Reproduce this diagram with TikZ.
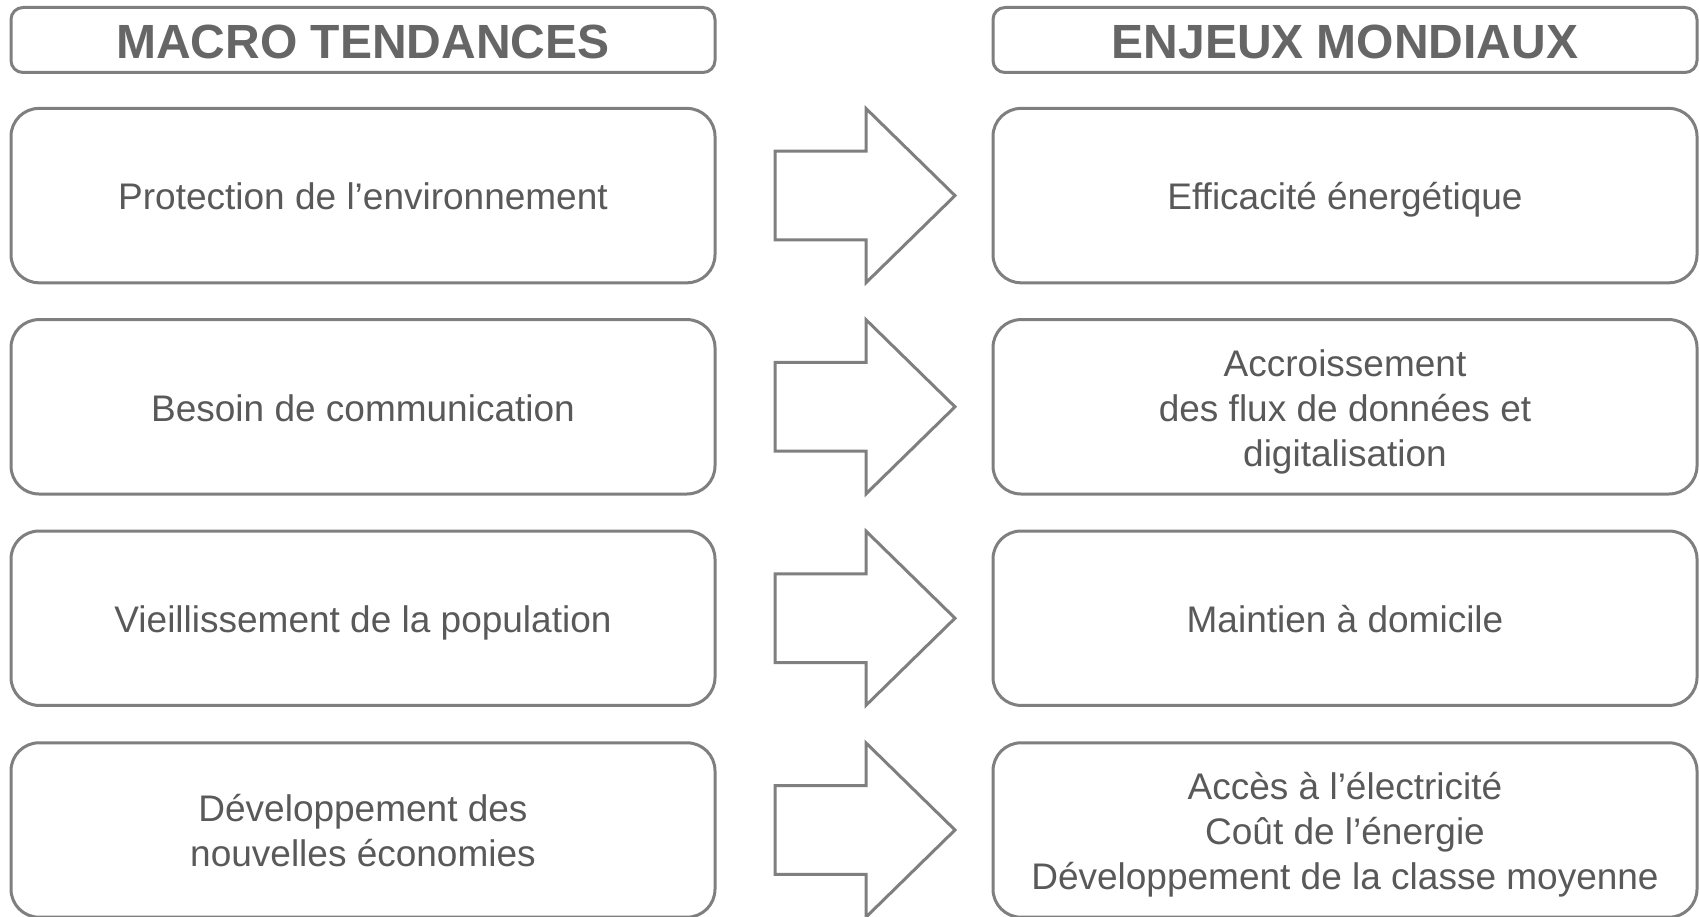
\documentclass[tikz,border=0pt]{standalone}
\usepackage{fontspec}
\setmainfont{Liberation Sans}
\usetikzlibrary{calc}
\definecolor{bordergray}{HTML}{7F7F7F}
\definecolor{textgray}{HTML}{595959}
\definecolor{headgray}{HTML}{666666}
\newcommand{\lnst}{\rule[-0.18\baselineskip]{0pt}{\baselineskip}}
\newcommand{\hdst}{\rule[-0.16\baselineskip]{0pt}{\baselineskip}}
\tikzset{
  rowbox/.style={draw=bordergray, line width=3pt, fill=white, rounded corners=28pt,
    minimum width=704pt, minimum height=174.4pt, inner sep=0pt, align=center,
    text=textgray, font=\fontsize{37}{45}\selectfont},
  headbox/.style={draw=bordergray, line width=3pt, fill=white, rounded corners=12pt,
    minimum width=704pt, minimum height=65pt, inner sep=0pt, align=center,
    text=headgray, font=\fontsize{48}{54}\selectfont\bfseries},
  bigarrow/.style={draw=bordergray, line width=3pt, fill=white, line join=miter}
}
\begin{document}
\begin{tikzpicture}[x=1pt,y=-1pt]
\useasboundingbox (0,0) rectangle (1699,917);
\node[headbox] (hl) at (363,40) {\hdst MACRO TENDANCES};
\node[headbox] (hr) at (1345,40) {\hdst ENJEUX MONDIAUX};

\node[rowbox] (l1) at (363,195.6) {\lnst Protection de l’environnement};
\node[rowbox] (l2) at (363,406.8) {\lnst Besoin de communication};
\node[rowbox] (l3) at (363,618.2) {\lnst Vieillissement de la population};
\node[rowbox] (l4) at (363,830) {\lnst Développement des\\\lnst nouvelles économies};

\node[rowbox] (r1) at (1345,195.6) {\lnst Efficacité énergétique};
\node[rowbox] (r2) at (1345,406.8) {\lnst Accroissement\\\lnst des flux de données et\\\lnst digitalisation};
\node[rowbox] (r3) at (1345,618.2) {\lnst Maintien à domicile};
\node[rowbox] (r4) at (1345,830) {\lnst Accès à l’électricité\\\lnst Coût de l’énergie\\\lnst Développement de la classe moyenne};

\foreach \i in {1,2,3,4}{
  \coordinate (a\i) at ($(l\i.east)+(58.6,0)$);
  \draw[bigarrow] (a\i) ++(0,-44.4) -- ++(91,0) -- ++(0,-42.6) -- ++(88.9,87)
    -- ++(-88.9,87) -- ++(0,-42.6) -- ++(-91,0) -- cycle;
}
\end{tikzpicture}
\end{document}
